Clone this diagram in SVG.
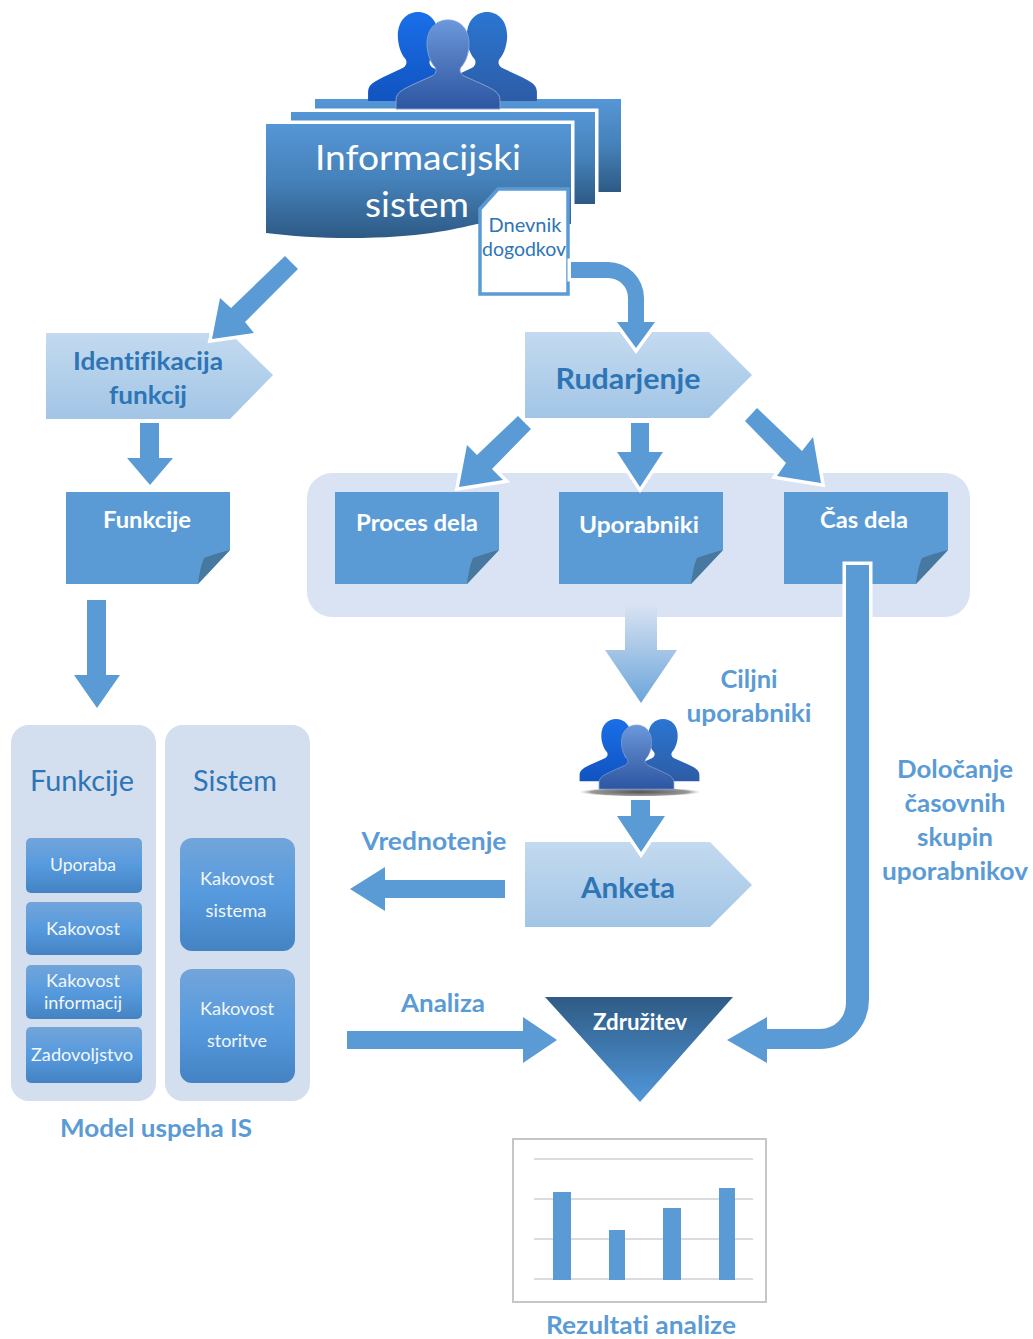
<svg xmlns="http://www.w3.org/2000/svg" xmlns:xlink="http://www.w3.org/1999/xlink" width="1033" height="1339" viewBox="0 0 1033 1339">
<defs>
<linearGradient id="gDoc" x1="0" y1="0" x2="0" y2="1"><stop offset="0" stop-color="#5596d6"/><stop offset="0.5" stop-color="#4581b9"/><stop offset="1" stop-color="#2d5a85"/></linearGradient>
<linearGradient id="gTri" x1="0" y1="0" x2="0" y2="1"><stop offset="0" stop-color="#2f5b85"/><stop offset="1" stop-color="#5097da"/></linearGradient>
<linearGradient id="gPent" x1="0" y1="0" x2="0" y2="1"><stop offset="0" stop-color="#c3daef"/><stop offset="1" stop-color="#a2c5e6"/></linearGradient>
<linearGradient id="gBox" x1="0" y1="0" x2="0" y2="1"><stop offset="0" stop-color="#72a5da"/><stop offset="0.5" stop-color="#569ade"/><stop offset="1" stop-color="#4483c3"/></linearGradient>
<linearGradient id="gFade" x1="0" y1="0" x2="0" y2="1"><stop offset="0" stop-color="#dae3f3"/><stop offset="1" stop-color="#6aa5d9"/></linearGradient>
<linearGradient id="gP1" x1="0" y1="0" x2="0" y2="1"><stop offset="0" stop-color="#1a6fe8"/><stop offset="1" stop-color="#1153c0"/></linearGradient>
<linearGradient id="gP2" x1="0" y1="0" x2="0" y2="1"><stop offset="0" stop-color="#6b98dc"/><stop offset="0.45" stop-color="#4f78bd"/><stop offset="1" stop-color="#2c56a3"/></linearGradient>
<linearGradient id="gP3" x1="0" y1="0" x2="0" y2="1"><stop offset="0" stop-color="#2a76d2"/><stop offset="1" stop-color="#2d5ca6"/></linearGradient>
<radialGradient id="gShadow"><stop offset="0" stop-color="#555"/><stop offset="0.8" stop-color="#999"/><stop offset="1" stop-color="#ccc" stop-opacity="0"/></radialGradient>
<path id="person" d="M-52 89 L-52 80 C-52 72 -44 69 -36 65 L-16 56 C-12 54 -11 50 -13 47 C-18 42 -21 32 -21 24 C-21 9 -12 0 0 0 C12 0 21 9 21 24 C21 32 18 42 13 47 C11 50 12 54 16 56 L36 65 C44 69 52 72 52 80 L52 89 Z"/>
</defs>
<style>
text{font-family:"Lato","Open Sans","Liberation Sans",sans-serif;text-anchor:middle;font-variant-ligatures:none}
.hd{fill:#2e75b6;font-weight:700}
.lb{fill:#5b9bd5;font-weight:700;font-size:25px}
.wt{fill:#fff;font-weight:700;font-size:23px}
.sm{fill:#f2f7fc;font-size:17px}
.ttl{fill:#2e75b6;font-size:28px}
.doc{fill:url(#gDoc);stroke:#fff;stroke-width:7;paint-order:stroke}
.pent{fill:url(#gPent);stroke:#fff;stroke-width:7;paint-order:stroke}
.note{fill:#5b9bd5}
.fold{fill:#47789f}
.panel{fill:#d3deef}
.box{fill:url(#gBox)}
.arr{fill:#5b9bd5;stroke:#fff;stroke-width:7;paint-order:stroke;stroke-linejoin:miter;stroke-miterlimit:6}
.grid{stroke:#dcdcdc;stroke-width:2}
.bar{fill:#5b9bd5}
</style>
<rect width="1033" height="1339" fill="#fff"/>

<g id="is-docs">
<rect class="doc" x="315" y="99" width="306" height="93"/>
<rect class="doc" x="291" y="112" width="304" height="92"/>
</g>
<g id="people-top">
<use xlink:href="#person" href="#person" transform="translate(418,12) scale(.96,1)" fill="url(#gP1)"/>
<use xlink:href="#person" href="#person" transform="translate(487,12) scale(.96,1)" fill="url(#gP3)"/>
<use xlink:href="#person" href="#person" transform="translate(448,20)" fill="url(#gP2)" stroke="#7f9fd2" stroke-width="1"/>
</g>
<g id="informacijski-sistem">
<path class="doc" d="M266 124 H571 V224 H477 C455 229 420 238 350 238 C320 238 290 236 266 233 Z"/>
<text x="418" y="170" font-size="35" fill="#fff" textLength="206" lengthAdjust="spacingAndGlyphs">Informacijski</text>
<text x="417" y="217" font-size="35" fill="#fff" textLength="104" lengthAdjust="spacingAndGlyphs">sistem</text>
</g>
<g id="dnevnik">
<path d="M480 209 L498 189 H568 V294 H480 Z" fill="#fff" stroke="#5b9bd5" stroke-width="3.5"/>
<text x="525" y="232" font-size="19" fill="#2e75b6" textLength="73" lengthAdjust="spacingAndGlyphs">Dnevnik</text>
<text x="524" y="256" font-size="19" fill="#2e75b6" textLength="84" lengthAdjust="spacingAndGlyphs">dogodkov</text>
</g>
<g id="identifikacija">
<path class="pent" d="M46 333 H230 L273 375 L230 419 H46 Z"/>
<text class="hd" x="148" y="370" font-size="25" textLength="150" lengthAdjust="spacingAndGlyphs">Identifikacija</text>
<text class="hd" x="148" y="404" font-size="25" textLength="78" lengthAdjust="spacingAndGlyphs">funkcij</text>
</g>
<g id="rudarjenje">
<path class="pent" d="M525 332 H709 L752 375 L709 418 H525 Z"/>
<text class="hd" x="628" y="389" font-size="28" textLength="145" lengthAdjust="spacingAndGlyphs">Rudarjenje</text>
</g>
<g id="funkcije-note">
<path class="note" d="M66 492 H230 V550 L198 584 H66 Z"/>
<path class="fold" d="M198 584 C199 574 201 565 204 558 C212 555 221 552 230 550 Z"/>
<text class="wt" x="147" y="528" textLength="88" lengthAdjust="spacingAndGlyphs">Funkcije</text>
</g>
<rect id="rud-panel" x="307" y="473" width="663" height="144" rx="25" fill="#dae3f3"/>
<g id="proces-dela">
<path class="note" d="M335 492 H499 V550 L467 584 H335 Z"/>
<path class="fold" d="M467 584 C468 574 470 565 473 558 C481 555 490 552 499 550 Z"/>
<text class="wt" x="417" y="531" textLength="122" lengthAdjust="spacingAndGlyphs">Proces dela</text>
</g>
<g id="uporabniki">
<path class="note" d="M559 492 H723 V550 L691 584 H559 Z"/>
<path class="fold" d="M691 584 C692 574 694 565 697 558 C705 555 714 552 723 550 Z"/>
<text class="wt" x="639" y="533" textLength="120" lengthAdjust="spacingAndGlyphs">Uporabniki</text>
</g>
<g id="cas-dela">
<path class="note" d="M784 492 H948 V550 L916 584 H784 Z"/>
<path class="fold" d="M916 584 C917 574 919 565 922 558 C930 555 939 552 948 550 Z"/>
<text class="wt" x="864" y="528" textLength="88" lengthAdjust="spacingAndGlyphs">Čas dela</text>
</g>
<g id="model-funkcije">
<rect class="panel" x="11" y="725" width="145" height="376" rx="18"/>
<text class="ttl" x="82" y="791" textLength="104" lengthAdjust="spacingAndGlyphs">Funkcije</text>
<rect class="box" x="26" y="838" width="116" height="55" rx="5"/>
<text class="sm" x="83" y="871" textLength="66" lengthAdjust="spacingAndGlyphs">Uporaba</text>
<rect class="box" x="26" y="902" width="116" height="53" rx="5"/>
<text class="sm" x="83" y="935" textLength="74" lengthAdjust="spacingAndGlyphs">Kakovost</text>
<rect class="box" x="26" y="965" width="116" height="54" rx="5"/>
<text class="sm" x="83" y="987" textLength="74" lengthAdjust="spacingAndGlyphs">Kakovost</text>
<text class="sm" x="83" y="1009" textLength="78" lengthAdjust="spacingAndGlyphs">informacij</text>
<rect class="box" x="26" y="1027" width="116" height="56" rx="5"/>
<text class="sm" x="82" y="1061" textLength="102" lengthAdjust="spacingAndGlyphs">Zadovoljstvo</text>
</g>
<g id="model-sistem">
<rect class="panel" x="165" y="725" width="145" height="376" rx="18"/>
<text class="ttl" x="235" y="791" textLength="84" lengthAdjust="spacingAndGlyphs">Sistem</text>
<rect class="box" x="180" y="838" width="115" height="113" rx="12"/>
<text class="sm" x="237" y="885" textLength="74" lengthAdjust="spacingAndGlyphs">Kakovost</text>
<text class="sm" x="236" y="917" textLength="61" lengthAdjust="spacingAndGlyphs">sistema</text>
<rect class="box" x="180" y="969" width="115" height="114" rx="12"/>
<text class="sm" x="237" y="1015" textLength="74" lengthAdjust="spacingAndGlyphs">Kakovost</text>
<text class="sm" x="237" y="1047" textLength="60" lengthAdjust="spacingAndGlyphs">storitve</text>
</g>
<g id="ciljni-uporabniki">
<ellipse cx="640" cy="792" rx="61" ry="4.5" fill="url(#gShadow)"/>
<use xlink:href="#person" href="#person" transform="translate(616,719) scale(.7)" fill="url(#gP1)"/>
<use xlink:href="#person" href="#person" transform="translate(663,719) scale(.7)" fill="url(#gP3)"/>
<use xlink:href="#person" href="#person" transform="translate(636.5,725) scale(.72)" fill="url(#gP2)" stroke="#7f9fd2" stroke-width="1"/>
</g>
<g id="anketa">
<path class="pent" d="M525 842 H710 L752 885 L710 927 H525 Z"/>
<text class="hd" x="628" y="898" font-size="29" textLength="94" lengthAdjust="spacingAndGlyphs">Anketa</text>
</g>
<g id="zdruzitev">
<path d="M545 997 H733 L640 1102 Z" fill="url(#gTri)" stroke="#fff" stroke-width="7" paint-order="stroke"/>
<text class="wt" x="640" y="1030" textLength="94" lengthAdjust="spacingAndGlyphs">Združitev</text>
</g>
<g id="rezultati">
<rect x="513" y="1139" width="253" height="163" fill="#fff" stroke="#c6c6c6" stroke-width="2"/>
<path class="grid" d="M534 1159 H753 M534 1199 H753 M534 1239 H753 M534 1279 H753" fill="none"/>
<rect class="bar" x="553" y="1192" width="18" height="88"/>
<rect class="bar" x="609" y="1230" width="16" height="50"/>
<rect class="bar" x="663" y="1208" width="18" height="72"/>
<rect class="bar" x="719" y="1188" width="16" height="92"/>
</g>

<g id="connectors">
<path class="arr" d="M571 262 H608 A36 36 0 0 1 644 298 V322 H655 L636 348 L617 322 H628 V298 A20 20 0 0 0 608 278 H571 Z"/>
<path class="arr" d="M285 256 L298 269 L245 322 L254 333 L212 339 L220 298 L231 308 Z"/>
<path class="arr" d="M140 423 H159 V458 H173 L150 485 L127 458 H140 Z"/>
<path class="arr" d="M87 600 H106 V675 H120 L97 708 L74 675 H87 Z"/>
<path class="arr" d="M518 416 L531 429 L492 469 L503 480 L459 487 L467 445 L477 455 Z"/>
<path class="arr" d="M631 423 H649 V452 H663 L640 487 L617 452 H631 Z"/>
<path class="arr" d="M757 408 L745 421 L786 463 L777 476 L821 483 L813 437 L802 451 Z"/>
<path class="arr" d="M846 565 H869 V1000 A49 49 0 0 1 820 1049 H767 V1063 L727 1040 L767 1017 V1029 H820 A26 26 0 0 0 846 1003 Z"/>
<path d="M625 604 H657 V650 H677 L641 703 L605 650 H625 Z" fill="url(#gFade)"/>
<path class="arr" d="M631 800 H650 V816 H665 L641 852 L617 816 H631 Z"/>
<path class="arr" d="M505 880 V898 H385 V911 L350 889 L385 867 V880 Z"/>
<path class="arr" d="M347 1031 H523 V1017 L557 1040 L523 1063 V1049 H347 Z"/>
</g>

<g id="labels">
<text class="lb" x="749" y="688" textLength="57" lengthAdjust="spacingAndGlyphs">Ciljni</text>
<text class="lb" x="749" y="722" textLength="125" lengthAdjust="spacingAndGlyphs">uporabniki</text>
<text class="lb" x="955" y="778" textLength="116" lengthAdjust="spacingAndGlyphs">Določanje</text>
<text class="lb" x="955" y="812" textLength="101" lengthAdjust="spacingAndGlyphs">časovnih</text>
<text class="lb" x="955" y="846" textLength="76" lengthAdjust="spacingAndGlyphs">skupin</text>
<text class="lb" x="955" y="880" textLength="146" lengthAdjust="spacingAndGlyphs">uporabnikov</text>
<text class="lb" x="434" y="850" textLength="145" lengthAdjust="spacingAndGlyphs">Vrednotenje</text>
<text class="lb" x="443" y="1012" textLength="84" lengthAdjust="spacingAndGlyphs">Analiza</text>
<text class="lb" x="156" y="1137" textLength="192" lengthAdjust="spacingAndGlyphs">Model uspeha IS</text>
<text class="lb" x="641" y="1334" textLength="190" lengthAdjust="spacingAndGlyphs">Rezultati analize</text>
</g>
</svg>
